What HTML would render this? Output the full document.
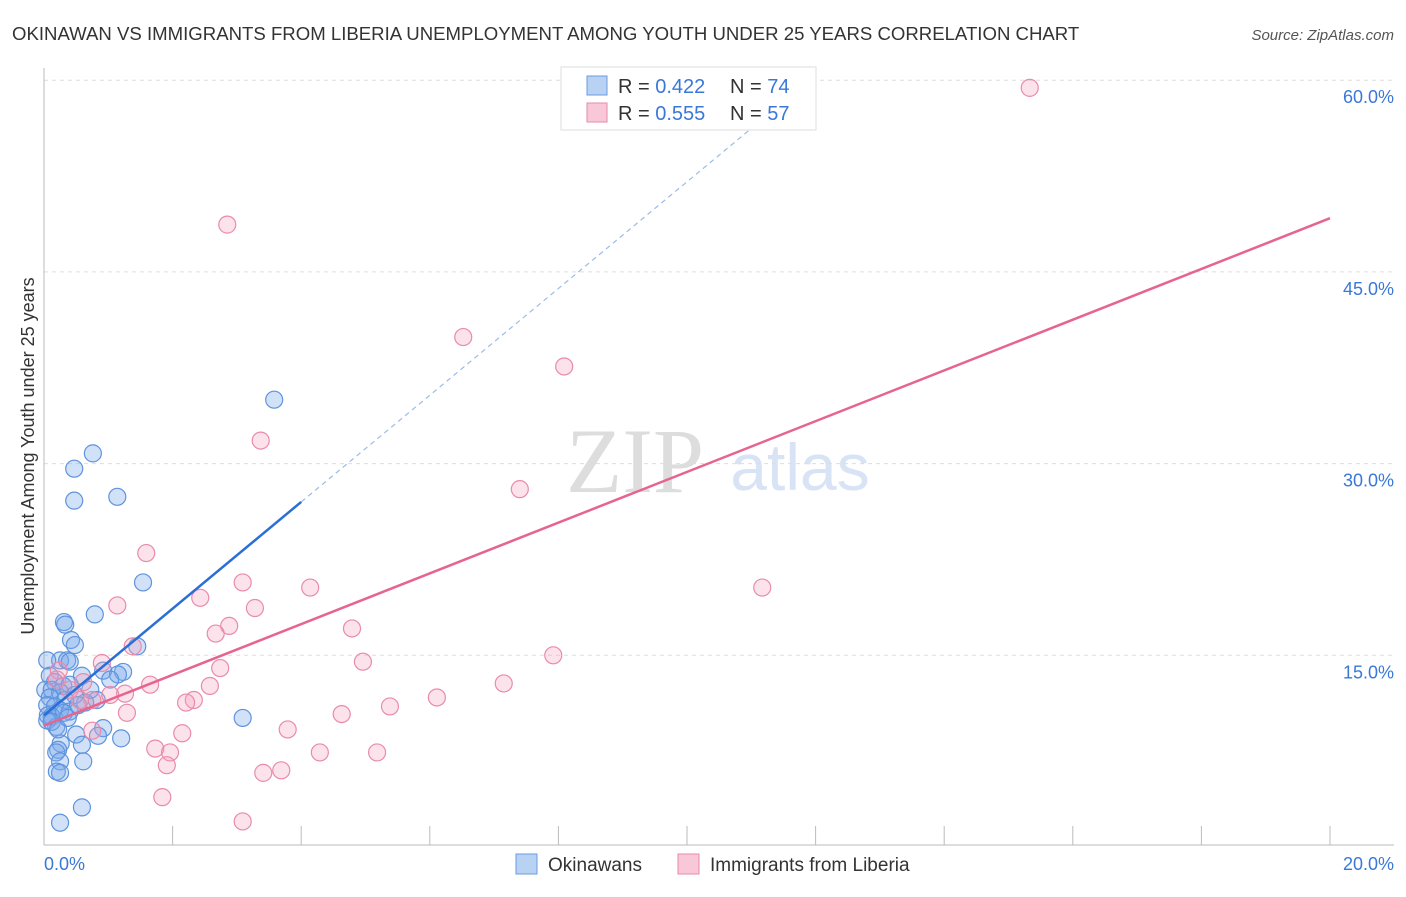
<!DOCTYPE html>
<html><head><meta charset="utf-8"><style>
body{margin:0;background:#fff;font-family:"Liberation Sans",sans-serif;}
</style></head><body>
<svg id="chart" width="1406" height="892" xmlns="http://www.w3.org/2000/svg">
<text x="12" y="40" font-size="18.6" fill="#333">OKINAWAN VS IMMIGRANTS FROM LIBERIA UNEMPLOYMENT AMONG YOUTH UNDER 25 YEARS CORRELATION CHART</text>
<text x="1394" y="40" font-size="15" fill="#555" font-style="italic" text-anchor="end">Source: ZipAtlas.com</text>
<text x="635" y="492" font-size="92" fill="#ddd" font-family="Liberation Serif,serif" text-anchor="middle">ZIP</text>
<text x="800" y="490" font-size="66" fill="#d8e4f5" text-anchor="middle">atlas</text>
<g id="grid"></g><g id="axes"></g><g id="marks"></g>
<text transform="translate(34,456) rotate(-90)" font-size="18" fill="#333" text-anchor="middle">Unemployment Among Youth under 25 years</text>
<g>
<rect x="561" y="67" width="255" height="63" fill="#fff" stroke="#ddd"/>
<rect x="587" y="76" width="20" height="19" fill="#b8d2f4" stroke="#6a9be0"/>
<text x="618" y="93" font-size="20" fill="#333">R = <tspan fill="#3a78d8">0.422</tspan></text>
<text x="730" y="93" font-size="20" fill="#333">N = <tspan fill="#3a78d8">74</tspan></text>
<rect x="587" y="103" width="20" height="19" fill="#f8c8d8" stroke="#e88aaa"/>
<text x="618" y="120" font-size="20" fill="#333">R = <tspan fill="#3a78d8">0.555</tspan></text>
<text x="730" y="120" font-size="20" fill="#333">N = <tspan fill="#3a78d8">57</tspan></text>
</g>
<g>
<rect x="516" y="854" width="21" height="20" fill="#b8d2f4" stroke="#6a9be0"/>
<text x="548" y="871" font-size="19" fill="#333">Okinawans</text>
<rect x="678" y="854" width="21" height="20" fill="#f8c8d8" stroke="#e88aaa"/>
<text x="710" y="871" font-size="19" fill="#333">Immigrants from Liberia</text>
</g>
</svg>
<script>
const yTicks=[15,30,45,60];
const yTickLabels=["15.0%","30.0%","45.0%","60.0%"];
const xEndLabels=["0.0%","20.0%"];
const blueX=[3.58,0.76,0.47,0.47,1.14,1.54,0.79,0.31,0.33,0.42,0.48,1.45,0.25,0.36,0.05,0.40,0.92,1.23,1.15,0.09,0.59,0.17,0.30,0.40,0.02,0.12,0.25,0.48,0.09,0.82,0.33,0.64,0.05,0.17,0.25,0.40,0.06,0.12,0.31,3.09,0.19,0.92,0.50,0.84,1.20,0.26,0.59,0.22,0.19,0.25,0.61,0.20,0.25,0.59,0.25,0.05,0.12,0.22,0.37,0.53,0.72,1.03];
const blueY=[35.0,30.8,29.6,27.1,27.4,20.7,18.2,17.6,17.4,16.2,15.8,15.7,14.6,14.6,14.6,14.5,13.8,13.7,13.5,13.4,13.4,12.9,12.6,12.7,12.3,12.3,12.1,11.9,11.7,11.5,11.5,11.3,11.1,11.0,10.7,10.6,10.3,10.2,10.5,10.1,9.4,9.3,8.8,8.7,8.5,8.1,8.0,7.6,7.4,6.7,6.7,5.9,5.8,3.1,1.9,9.9,9.8,9.2,10.1,11.1,12.3,13.1];
const pinkX=[15.33,2.85,6.52,8.09,3.37,7.40,1.59,11.17,3.09,4.14,2.43,3.28,1.14,2.88,2.67,4.79,1.38,0.90,4.96,2.74,7.92,0.23,1.65,0.61,7.15,2.58,0.40,2.33,6.11,1.26,0.75,2.21,5.38,4.63,1.29,2.15,3.79,1.73,1.96,4.29,5.18,0.75,1.91,3.69,3.41,1.84,3.09,1.03,0.20,0.56];
const pinkY=[59.4,48.7,39.9,37.6,31.8,28.0,23.0,20.3,20.7,20.3,19.5,18.7,18.9,17.3,16.7,17.1,15.7,14.4,14.5,14.0,15.0,13.8,12.7,12.9,12.8,12.6,12.3,11.5,11.7,12.0,11.5,11.3,11.0,10.4,10.5,8.9,9.2,7.7,7.4,7.4,7.4,9.1,6.4,6.0,5.8,3.9,2.0,11.9,13.1,11.5];
const blueLine=[10.3,27.0];
const pinkLine=[9.5,49.2];
const xs=v=>44+v*64.3, ys=v=>847-v*12.78;
const NS="http://www.w3.org/2000/svg";
function mk(t,a,p){const e=document.createElementNS(NS,t);for(const k in a)e.setAttribute(k,a[k]);p.appendChild(e);return e;}
const grid=document.getElementById('grid'),axes=document.getElementById('axes'),marks=document.getElementById('marks');
yTicks.forEach((t,i)=>{
 const l=mk('line',{x1:44,x2:1394,y1:ys(t),y2:ys(t),stroke:'#ddd','stroke-dasharray':'4,4'},grid);
 
 
 const tx=mk('text',{x:1394,y:ys(t)+23,'font-size':18,fill:'#3a78d8','text-anchor':'end'},axes);
 tx.textContent=yTickLabels[i];
 
 
});
const ya=mk('line',{x1:44,x2:44,y1:68,y2:845,stroke:'#bbb'},axes);


const xa=mk('line',{x1:44,x2:1394,y1:845,y2:845,stroke:'#bbb'},axes);


for(let v=2;v<=20;v+=2){const t=mk('line',{x1:xs(v),x2:xs(v),y1:826,y2:845,stroke:'#bbb'},axes);
 
 }
[[0,'start',44],[20,'end',1394]].forEach((d,i)=>{const t=mk('text',{x:d[2],y:870,'font-size':18,fill:'#3a78d8','text-anchor':d[1]},axes);t.textContent=xEndLabels[i];
 
 });
function dots(X,Y,fill,stroke,name){X.forEach((x,i)=>{const c=mk('circle',{cx:xs(x),cy:ys(Y[i]),r:8.5,fill:fill,stroke:stroke,'stroke-width':1.2},marks);
 
 });}
dots(blueX,blueY,'rgba(120,170,235,0.35)','#5f93dd','okinawan-point');
dots(pinkX,pinkY,'rgba(245,160,190,0.3)','#e98bab','liberia-point');
const bs=(blueLine[1]-blueLine[0])/4;
const bd=mk('line',{x1:xs(4),y1:ys(blueLine[1]),x2:xs(12),y2:ys(blueLine[0]+bs*12),stroke:'#9bbbe8','stroke-dasharray':'5,4','stroke-width':1.2},marks);


const bl=mk('line',{x1:xs(0),y1:ys(blueLine[0]),x2:xs(4),y2:ys(blueLine[1]),stroke:'#2a6fd6','stroke-width':2.5},marks);


const pl=mk('line',{x1:xs(0),y1:ys(pinkLine[0]),x2:xs(20),y2:ys(pinkLine[1]),stroke:'#e6658f','stroke-width':2.5},marks);


</script>
</body></html>
